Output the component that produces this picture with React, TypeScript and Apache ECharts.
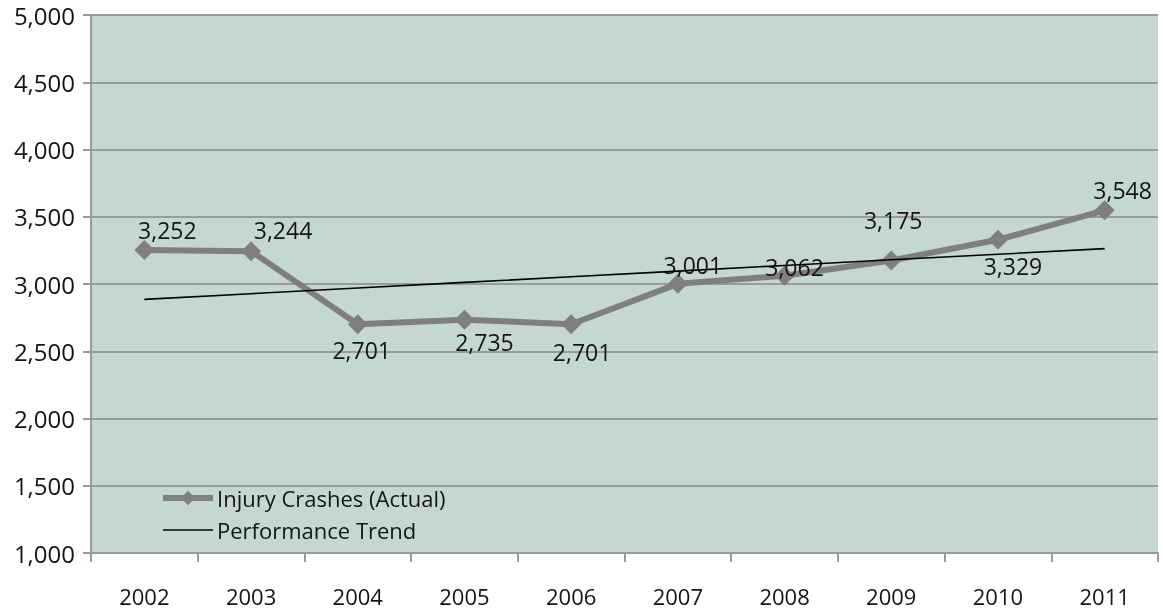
import React, { useEffect, useRef } from "react";
import * as echarts from "echarts";

const years = ["2002", "2003", "2004", "2005", "2006", "2007", "2008", "2009", "2010", "2011"];
const actual = [3252, 3244, 2701, 2735, 2701, 3001, 3062, 3175, 3329, 3548];
const trend = [2886, 2928, 2970, 3012, 3054, 3096, 3138, 3180, 3221, 3263];
const yTicks = [1000, 1500, 2000, 2500, 3000, 3500, 4000, 4500, 5000];

// label placement (style only)
const labelOffsets: [number, number][] = [
  [23, -20], [32, -21], [4, 26], [20, 22], [11, 28],
  [15, -19], [10, -9], [2, -40], [15, 26], [18, -20],
];

const FONT = "'Open Sans', 'Noto Sans', sans-serif";
const TEXT = "#141414";

export default function App() {
  const ref = useRef<HTMLDivElement>(null);
  useEffect(() => {
    if (!ref.current) return;
    const chart = echarts.init(ref.current, undefined, { renderer: "svg" });
    chart.setOption({
      animation: false,
      textStyle: { fontFamily: FONT },
      grid: {
        left: 91, top: 15, right: 5, bottom: 57,
        show: true, backgroundColor: "#c5d8cf", borderWidth: 0,
      },
      legend: {
        orient: "vertical",
        left: 155, top: 482,
        itemWidth: 50, itemHeight: 18, itemGap: 10,
        textStyle: { fontSize: 22, color: TEXT, fontFamily: FONT, padding: [0, 0, 0, -1] },
        data: [
          { name: "Injury Crashes (Actual)", lineStyle: { width: 6, color: "#7f7f7f" } },
          { name: "Performance Trend", icon: "path://M0,0H50V1.6H0Z", itemStyle: { color: "#000000" } },
        ],
      },
      xAxis: {
        type: "category",
        data: years,
        boundaryGap: true,
        axisLine: { show: true, lineStyle: { color: "#9a9a9a", width: 2 } },
        axisTick: { show: true, length: 9, lineStyle: { color: "#9a9a9a", width: 2 } },
        axisLabel: { fontSize: 22, lineHeight: 20, color: TEXT, margin: 33, fontFamily: FONT },
        splitLine: { show: false },
      },
      yAxis: {
        type: "value",
        min: 1000, max: 5000, interval: 500,
        axisLine: { show: true, lineStyle: { color: "#9a9a9a", width: 2 } },
        axisTick: { show: true, length: 8, lineStyle: { color: "#9a9a9a", width: 2 } },
        splitLine: { show: true, lineStyle: { color: "#9a9a9a", width: 2 } },
        axisLabel: {
          fontSize: 24, lineHeight: 20, color: TEXT, margin: 16, fontFamily: FONT,
          formatter: (v: number) => (yTicks.includes(v) ? v.toLocaleString("en-US") : ""),
        },
      },
      series: [
        {
          name: "Injury Crashes (Actual)",
          type: "line",
          data: actual.map((v, i) => ({
            value: v,
            label: { offset: labelOffsets[i] },
          })),
          symbol: "diamond",
          symbolSize: 20,
          lineStyle: { color: "#7f7f7f", width: 6 },
          itemStyle: { color: "#7f7f7f" },
          label: {
            show: true,
            position: "inside",
            fontSize: 23,
            color: TEXT,
            fontFamily: FONT,
            formatter: (p: any) => Number(p.value).toLocaleString("en-US"),
          },
          z: 3,
        },
        {
          name: "Performance Trend",
          type: "line",
          data: trend,
          symbol: "none",
          lineStyle: { color: "#000000", width: 1.6 },
          itemStyle: { color: "#000000" },
          z: 4,
        },
      ],
    });
    return () => chart.dispose();
  }, []);
  return (
    <div
      ref={ref}
      style={{ position: "fixed", left: 0, top: 0, width: 1163, height: 610 }}
    />
  );
}
